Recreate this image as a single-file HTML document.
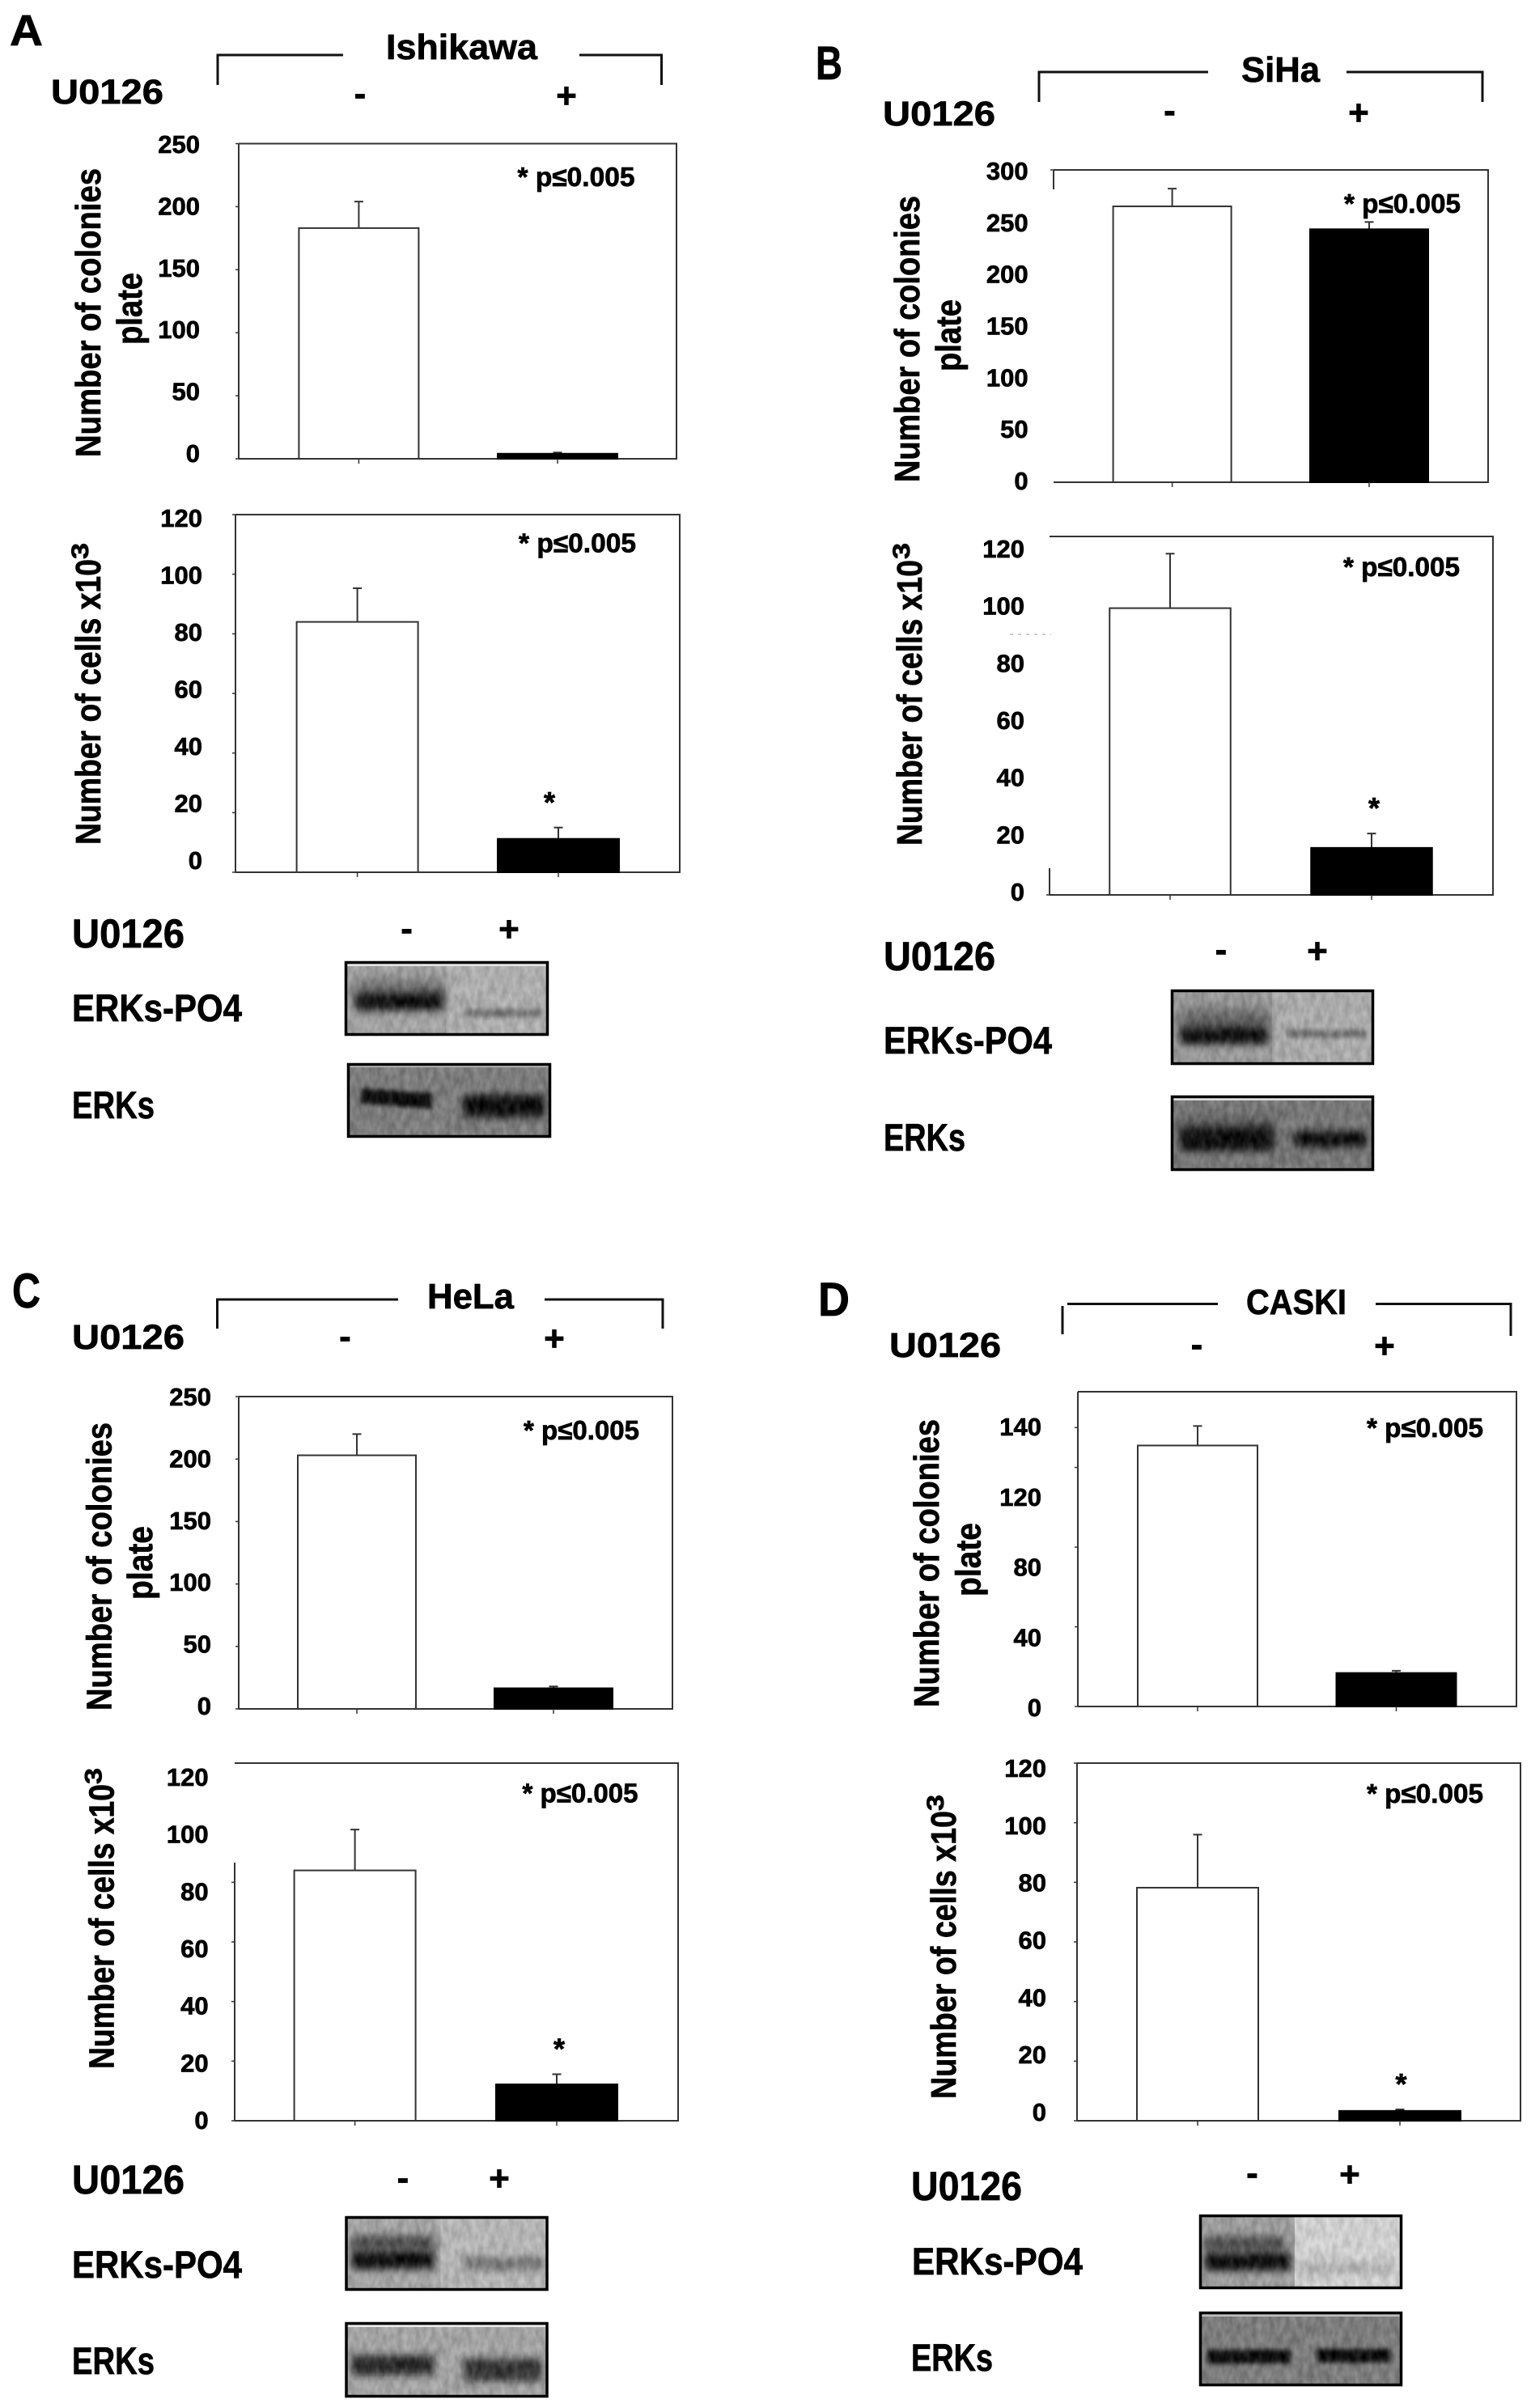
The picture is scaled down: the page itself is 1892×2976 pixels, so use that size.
<!DOCTYPE html>
<html lang="en">
<head>
<meta charset="utf-8">
<title>U0126 colony and cell number charts with ERK western blots</title>
<style>
html,body{margin:0;padding:0;background:#fff;}
svg#figure{display:block;width:1892px;height:2976px;font-family:"Liberation Sans",sans-serif;font-weight:bold;fill:#000;}
svg#figure text{stroke:#000;stroke-width:.7px;}
</style>
</head>
<body>
<svg id="figure" xmlns="http://www.w3.org/2000/svg" width="1892" height="2976" viewBox="0 0 1892 2976">
<defs>
<filter id="b3" x="-30%" y="-150%" width="160%" height="400%"><feGaussianBlur stdDeviation="3"/></filter>
<filter id="b5" x="-30%" y="-150%" width="160%" height="400%"><feGaussianBlur stdDeviation="5"/></filter>
<filter id="b9" x="-30%" y="-150%" width="160%" height="400%"><feGaussianBlur stdDeviation="9"/></filter>
<filter id="grain" x="0" y="0" width="100%" height="100%" color-interpolation-filters="sRGB">
<feTurbulence type="fractalNoise" baseFrequency="0.14 0.07" numOctaves="2" seed="7"/>
<feColorMatrix values="1.8 0 0 0 -0.4  1.8 0 0 0 -0.4  1.8 0 0 0 -0.4  0 0 0 0 0.13"/>
</filter>
</defs>

<!-- PANEL A -->
<g>
<text x="12" y="56" font-size="54" textLength="41" lengthAdjust="spacingAndGlyphs">A</text>
<text x="477" y="73" font-size="44" textLength="187" lengthAdjust="spacingAndGlyphs">Ishikawa</text>
<path d="M269 105V68H424" fill="none" stroke="#111" stroke-width="3"/>
<path d="M716 68H817.5V105" fill="none" stroke="#111" stroke-width="3"/>
<text x="63" y="128" font-size="43" textLength="139" lengthAdjust="spacingAndGlyphs">U0126</text>
<text x="445" y="130" font-size="44" text-anchor="middle">-</text>
<text x="700" y="133" font-size="44" text-anchor="middle">+</text>
<text transform="translate(124,565) rotate(-90)" font-size="44" textLength="357" lengthAdjust="spacingAndGlyphs">Number of colonies</text>
<text transform="translate(175,426) rotate(-90)" font-size="44" textLength="89" lengthAdjust="spacingAndGlyphs">plate</text>
<text x="639.5" y="230" font-size="33" textLength="145" lengthAdjust="spacingAndGlyphs">* p≤0.005</text>
<text transform="translate(124,1044) rotate(-90)" font-size="44" textLength="353" lengthAdjust="spacingAndGlyphs">Number of cells x10</text>
<text transform="translate(109,691) rotate(-90)" font-size="30" textLength="20" lengthAdjust="spacingAndGlyphs">3</text>
<text x="641" y="682.6" font-size="33" textLength="145" lengthAdjust="spacingAndGlyphs">* p≤0.005</text>
<text x="89" y="1171" font-size="50" textLength="139" lengthAdjust="spacingAndGlyphs">U0126</text>
<text x="502.6" y="1162" font-size="44" text-anchor="middle">-</text>
<text x="629" y="1163" font-size="44" text-anchor="middle">+</text>
<text x="89" y="1262" font-size="47" textLength="210" lengthAdjust="spacingAndGlyphs">ERKs-PO4</text>
<text x="89" y="1382" font-size="47" textLength="102" lengthAdjust="spacingAndGlyphs">ERKs</text>
<g>
<svg x="426" y="1188" width="252" height="92">
<rect width="252" height="92" fill="#a6a6a6"/><rect x="125" width="127" height="92" fill="#b4b4b4"/>
<rect x="12" y="24" width="110" height="30" fill="#606060" filter="url(#b9)"/>
<rect x="14" y="40" width="108" height="20" fill="#000" filter="url(#b5)"/>
<rect x="148" y="59" width="96" height="10" fill="#6e6e6e" filter="url(#b3)"/>
<rect width="252" height="92" filter="url(#grain)"/>
<rect x="3" y="3" width="246" height="3" fill="#e4e4e4"/>
</svg>
<rect x="427.5" y="1189.5" width="249" height="89" fill="none" stroke="#000" stroke-width="3.5"/>
</g>
<g>
<svg x="429" y="1314" width="252" height="92">
<rect width="252" height="92" fill="#7c7c7c"/>
<rect x="17" y="34" width="88" height="19" fill="#000" filter="url(#b3)" transform="rotate(4 60 44)"/>
<rect x="144" y="39" width="100" height="28" fill="#000" filter="url(#b5)"/>
<rect width="252" height="92" filter="url(#grain)"/>
<rect x="3" y="3" width="246" height="2" fill="#bbb"/>
</svg>
<rect x="430.5" y="1315.5" width="249" height="89" fill="none" stroke="#000" stroke-width="3.5"/>
</g>
</g>

<!-- PANEL B -->
<g>
<text x="1008" y="98" font-size="58" textLength="33" lengthAdjust="spacingAndGlyphs">B</text>
<text x="1534" y="101" font-size="44" textLength="97" lengthAdjust="spacingAndGlyphs">SiHa</text>
<path d="M1284 126V89H1493" fill="none" stroke="#111" stroke-width="3"/>
<path d="M1664 89H1832V126" fill="none" stroke="#111" stroke-width="3"/>
<text x="1091" y="155" font-size="43" textLength="139" lengthAdjust="spacingAndGlyphs">U0126</text>
<text x="1445.5" y="151" font-size="44" text-anchor="middle">-</text>
<text x="1679" y="154" font-size="44" text-anchor="middle">+</text>
<text transform="translate(1136,596) rotate(-90)" font-size="44" textLength="354" lengthAdjust="spacingAndGlyphs">Number of colonies</text>
<text transform="translate(1187,459) rotate(-90)" font-size="44" textLength="89" lengthAdjust="spacingAndGlyphs">plate</text>
<text x="1661" y="263" font-size="33" textLength="144" lengthAdjust="spacingAndGlyphs">* p≤0.005</text>
<text transform="translate(1139,1045) rotate(-90)" font-size="44" textLength="353" lengthAdjust="spacingAndGlyphs">Number of cells x10</text>
<text transform="translate(1124,691) rotate(-90)" font-size="30" textLength="20" lengthAdjust="spacingAndGlyphs">3</text>
<text x="1660" y="712" font-size="33" textLength="144" lengthAdjust="spacingAndGlyphs">* p≤0.005</text>
<path d="M1248 784H1299" stroke="#bbb" stroke-width="1.5" stroke-dasharray="4 6" fill="none"/>
<text x="1092" y="1199" font-size="50" textLength="138" lengthAdjust="spacingAndGlyphs">U0126</text>
<text x="1509" y="1188" font-size="44" text-anchor="middle">-</text>
<text x="1628" y="1190" font-size="44" text-anchor="middle">+</text>
<text x="1092" y="1302" font-size="47" textLength="208" lengthAdjust="spacingAndGlyphs">ERKs-PO4</text>
<text x="1092" y="1422" font-size="47" textLength="101" lengthAdjust="spacingAndGlyphs">ERKs</text>
<g>
<svg x="1447" y="1223" width="251" height="93">
<rect width="251" height="93" fill="#9c9c9c"/><rect x="125" width="126" height="93" fill="#b0b0b0"/>
<rect x="12" y="26" width="108" height="30" fill="#545454" filter="url(#b9)"/>
<rect x="12" y="47" width="108" height="20" fill="#000" filter="url(#b5)"/>
<rect x="144" y="50" width="97" height="10" fill="#707070" filter="url(#b3)"/>
<rect width="251" height="93" filter="url(#grain)"/>
</svg>
<rect x="1448.5" y="1224.5" width="248" height="90" fill="none" stroke="#000" stroke-width="3.5"/>
</g>
<g>
<svg x="1447" y="1354" width="251" height="93">
<rect width="251" height="93" fill="#767676"/>
<rect x="12" y="30" width="115" height="24" fill="#444" filter="url(#b9)"/>
<rect x="12" y="40" width="115" height="28" fill="#000" filter="url(#b5)"/>
<rect x="153" y="44" width="88" height="20" fill="#000" filter="url(#b5)"/>
<rect width="251" height="93" filter="url(#grain)"/>
<rect x="3" y="3" width="245" height="3" fill="#ddd"/>
</svg>
<rect x="1448.5" y="1355.5" width="248" height="90" fill="none" stroke="#000" stroke-width="3.5"/>
</g>
</g>

<!-- PANEL C -->
<g>
<text x="15" y="1616" font-size="60" textLength="35" lengthAdjust="spacingAndGlyphs">C</text>
<text x="528" y="1617" font-size="44" textLength="107" lengthAdjust="spacingAndGlyphs">HeLa</text>
<path d="M268.5 1642V1606H492" fill="none" stroke="#111" stroke-width="3"/>
<path d="M673 1606H819V1642" fill="none" stroke="#111" stroke-width="3"/>
<text x="89" y="1667" font-size="43" textLength="139" lengthAdjust="spacingAndGlyphs">U0126</text>
<text x="426.5" y="1666" font-size="44" text-anchor="middle">-</text>
<text x="685" y="1669" font-size="44" text-anchor="middle">+</text>
<text transform="translate(137.5,2114) rotate(-90)" font-size="44" textLength="356" lengthAdjust="spacingAndGlyphs">Number of colonies</text>
<text transform="translate(188,1977) rotate(-90)" font-size="44" textLength="91" lengthAdjust="spacingAndGlyphs">plate</text>
<text x="647" y="1779" font-size="33" textLength="143" lengthAdjust="spacingAndGlyphs">* p≤0.005</text>
<text transform="translate(140.5,2557) rotate(-90)" font-size="44" textLength="352" lengthAdjust="spacingAndGlyphs">Number of cells x10</text>
<text transform="translate(125.5,2205) rotate(-90)" font-size="30" textLength="20" lengthAdjust="spacingAndGlyphs">3</text>
<text x="645.5" y="2227.5" font-size="33" textLength="143" lengthAdjust="spacingAndGlyphs">* p≤0.005</text>
<text x="89" y="2711" font-size="50" textLength="139" lengthAdjust="spacingAndGlyphs">U0126</text>
<text x="498" y="2706" font-size="44" text-anchor="middle">-</text>
<text x="617" y="2707" font-size="44" text-anchor="middle">+</text>
<text x="89" y="2815" font-size="47" textLength="210" lengthAdjust="spacingAndGlyphs">ERKs-PO4</text>
<text x="89" y="2934" font-size="47" textLength="102" lengthAdjust="spacingAndGlyphs">ERKs</text>
<g>
<svg x="426.5" y="2739" width="251" height="92">
<rect width="251" height="92" fill="#a8a8a8"/><rect x="118" width="133" height="92" fill="#bcbcbc"/>
<rect x="8" y="24" width="102" height="18" fill="#444" filter="url(#b5)"/>
<rect x="8" y="43" width="102" height="22" fill="#000" filter="url(#b5)"/>
<rect x="147" y="51" width="99" height="16" fill="#707070" filter="url(#b5)"/>
<rect width="251" height="92" filter="url(#grain)"/>
</svg>
<rect x="428" y="2740.5" width="248" height="89" fill="none" stroke="#000" stroke-width="3.5"/>
</g>
<g>
<svg x="426.5" y="2870" width="251" height="93">
<rect width="251" height="93" fill="#a8a8a8"/>
<rect x="8" y="41" width="102" height="24" fill="#1c1c1c" filter="url(#b5)"/>
<rect x="147" y="45" width="96" height="28" fill="#2a2a2a" filter="url(#b5)"/>
<rect width="251" height="93" filter="url(#grain)"/>
<rect x="3" y="3" width="245" height="3" fill="#e8e8e8"/>
</svg>
<rect x="428" y="2871.5" width="248" height="90" fill="none" stroke="#000" stroke-width="3.5"/>
</g>
</g>

<!-- PANEL D -->
<g>
<text x="1011" y="1626" font-size="58" textLength="39" lengthAdjust="spacingAndGlyphs">D</text>
<text x="1540" y="1624" font-size="44" textLength="124" lengthAdjust="spacingAndGlyphs">CASKI</text>
<path d="M1313 1614V1649M1319 1611.5H1505" fill="none" stroke="#111" stroke-width="3"/>
<path d="M1700 1611.5H1867V1651" fill="none" stroke="#111" stroke-width="3"/>
<text x="1099" y="1677" font-size="43" textLength="138" lengthAdjust="spacingAndGlyphs">U0126</text>
<text x="1479" y="1676" font-size="44" text-anchor="middle">-</text>
<text x="1711" y="1678" font-size="44" text-anchor="middle">+</text>
<text transform="translate(1160,2110) rotate(-90)" font-size="44" textLength="356" lengthAdjust="spacingAndGlyphs">Number of colonies</text>
<text transform="translate(1211.5,1973) rotate(-90)" font-size="44" textLength="91" lengthAdjust="spacingAndGlyphs">plate</text>
<text x="1689" y="1776" font-size="33" textLength="144" lengthAdjust="spacingAndGlyphs">* p≤0.005</text>
<text transform="translate(1181,2594) rotate(-90)" font-size="44" textLength="356" lengthAdjust="spacingAndGlyphs">Number of cells x10</text>
<text transform="translate(1166,2238) rotate(-90)" font-size="30" textLength="20" lengthAdjust="spacingAndGlyphs">3</text>
<text x="1689" y="2228" font-size="33" textLength="144" lengthAdjust="spacingAndGlyphs">* p≤0.005</text>
<text x="1126" y="2719" font-size="50" textLength="137" lengthAdjust="spacingAndGlyphs">U0126</text>
<text x="1547.5" y="2700" font-size="44" text-anchor="middle">-</text>
<text x="1668" y="2702" font-size="44" text-anchor="middle">+</text>
<text x="1127" y="2811" font-size="47" textLength="211" lengthAdjust="spacingAndGlyphs">ERKs-PO4</text>
<text x="1126" y="2930" font-size="47" textLength="101" lengthAdjust="spacingAndGlyphs">ERKs</text>
<g>
<svg x="1482" y="2737" width="251" height="92">
<rect width="251" height="92" fill="#a0a0a0"/><rect x="118" width="133" height="92" fill="#dadada"/>
<rect x="7" y="27" width="98" height="18" fill="#444" filter="url(#b5)"/>
<rect x="7" y="47" width="106" height="22" fill="#000" filter="url(#b5)"/>
<rect x="125" y="59" width="115" height="14" fill="#b0b0b0" filter="url(#b5)"/>
<rect width="251" height="92" filter="url(#grain)"/>
</svg>
<rect x="1483.5" y="2738.5" width="248" height="89" fill="none" stroke="#000" stroke-width="3.5"/>
</g>
<g>
<svg x="1482" y="2857" width="251" height="92">
<rect width="251" height="92" fill="#7c7c7c"/>
<rect x="10" y="47" width="103" height="17" fill="#000" filter="url(#b3)"/>
<rect x="146" y="46" width="90" height="17" fill="#000" filter="url(#b3)"/>
<rect width="251" height="92" filter="url(#grain)"/>
<rect x="3" y="3" width="245" height="3" fill="#bdbdbd"/>
</svg>
<rect x="1483.5" y="2858.5" width="248" height="89" fill="none" stroke="#000" stroke-width="3.5"/>
</g>
</g>

<g id="charts"></g>
</svg>

<script>
// Chart data
const categories = ['-', '+'];

const ishikawaColonyMeans = [183, 4];
const ishikawaColonyErrors = [21, 1];
const ishikawaColonyTicks = [250, 200, 150, 100, 50, 0];

const ishikawaCellMeans = [84, 11.2];
const ishikawaCellErrors = [11.3, 3.8];
const ishikawaCellTicks = [120, 100, 80, 60, 40, 20, 0];

const sihaColonyMeans = [265, 243];
const sihaColonyErrors = [17, 7];
const sihaColonyTicks = [300, 250, 200, 150, 100, 50, 0];

const sihaCellMeans = [100, 16.4];
const sihaCellErrors = [19, 5];
const sihaCellTicks = [120, 100, 80, 60, 40, 20, 0];

const helaColonyMeans = [203, 16.5];
const helaColonyErrors = [17, 1.5];
const helaColonyTicks = [250, 200, 150, 100, 50, 0];

const helaCellMeans = [84, 12.2];
const helaCellErrors = [13.7, 3.4];
const helaCellTicks = [120, 100, 80, 60, 40, 20, 0];

const caskiColonyMeans = [131, 16.8];
const caskiColonyErrors = [9.8, 1.1];
const caskiColonyTicks = [140, 120, 80, 40, 0];

const caskiCellMeans = [78.2, 3.3];
const caskiCellErrors = [17.8, 0.5];
const caskiCellTicks = [120, 100, 80, 60, 40, 20, 0];

// Plot geometry
const charts = [
  {name:'ishikawa-colonies-chart', means:ishikawaColonyMeans, errors:ishikawaColonyErrors, ticks:ishikawaColonyTicks,
   l:295, r:836, t:177.5, b:567, max:250, first:443.4, step:245.6, barW:148, left:[177.5,567], labelX:247, labelTop:178, labelBottom:560},
  {name:'ishikawa-cells-chart', means:ishikawaCellMeans, errors:ishikawaCellErrors, ticks:ishikawaCellTicks,
   l:291, r:840, t:636, b:1078, max:120, first:441.6, step:248.4, barW:150, left:[636,1078], labelX:250, labelTop:640, labelBottom:1063, starDx:-11},
  {name:'siha-colonies-chart', means:sihaColonyMeans, errors:sihaColonyErrors, ticks:sihaColonyTicks,
   l:1302, r:1839, t:210, b:596, max:300, first:1448.6, step:243.4, barW:146, left:[210,234], labelX:1270.6, labelTop:211, labelBottom:594},
  {name:'siha-cells-chart', means:sihaCellMeans, errors:sihaCellErrors, ticks:sihaCellTicks,
   l:1297, r:1845, t:663, b:1106, max:125, first:1446, step:249, barW:149.5, left:[1073,1106], labelX:1266, labelTop:678, labelBottom:1102, starDx:3},
  {name:'hela-colonies-chart', means:helaColonyMeans, errors:helaColonyErrors, ticks:helaColonyTicks,
   l:295, r:831, t:1726, b:2112, max:250, first:441, step:243, barW:146, left:[1726,2112], labelX:261, labelTop:1726, labelBottom:2108},
  {name:'hela-cells-chart', means:helaCellMeans, errors:helaCellErrors, ticks:helaCellTicks,
   l:290, r:838, t:2179, b:2621, max:120, first:438.6, step:249.4, barW:150, left:[2302,2621], labelX:257.6, labelTop:2196, labelBottom:2620, starDx:3},
  {name:'caski-colonies-chart', means:caskiColonyMeans, errors:caskiColonyErrors, ticks:caskiColonyTicks,
   l:1332, r:1874, t:1720, b:2109, max:158, first:1480, step:245.5, barW:148, left:[1720,2109], labelX:1287, labelTop:1763, labelBottom:2110},
  {name:'caski-cells-chart', means:caskiCellMeans, errors:caskiCellErrors, ticks:caskiCellTicks,
   l:1331, r:1879, t:2179, b:2621, max:120, first:1480, step:250, barW:150, left:[2179,2621], labelX:1293, labelTop:2185, labelBottom:2610, starDx:1.5}
];

const SVGNS = 'http://www.w3.org/2000/svg';
const root = document.getElementById('charts');

function make(tag, parent, attrs) {
  const el = document.createElementNS(SVGNS, tag);
  for (const k in attrs) el.setAttribute(k, attrs[k]);
  parent.appendChild(el);
  return el;
}

function drawChart(c) {
  const yScale = v => c.b - (v / c.max) * (c.b - c.t);
  const xBand = i => c.first + i * c.step;
  const stroke = '#333';

  const g = make('g', root, {});
  
  

  // plot frame
  const frame = make('path', g, {
    d: 'M' + c.l + ' ' + c.t + 'H' + c.r + 'V' + c.b + 'H' + c.l +
       'M' + c.l + ' ' + c.left[0] + 'V' + c.left[1],
    fill: 'none', stroke: stroke, 'stroke-width': 2
  });
  
  

  // y axis ticks and labels
  c.ticks.forEach((tick, i) => {
    const yTick = yScale(tick);
    if (yTick >= c.left[0] && yTick <= c.left[1]) {
      const mark = make('line', g, {x1: c.l - 4, x2: c.l, y1: yTick, y2: yTick, stroke: stroke, 'stroke-width': 1.5});
      
      
    }
    const yLabel = c.labelTop + i * (c.labelBottom - c.labelTop) / (c.ticks.length - 1);
    const label = make('text', g, {x: c.labelX, y: yLabel + 11, 'font-size': 31, 'text-anchor': 'end'});
    label.textContent = String(tick);
    
    
  });

  // bars, error bars, x ticks
  categories.forEach((cat, i) => {
    const cx = xBand(i);
    const top = yScale(c.means[i]);
    const errTop = yScale(c.means[i] + c.errors[i]);

    const whisker = make('path', g, {
      d: 'M' + cx + ' ' + top + 'V' + errTop + 'M' + (cx - 5.5) + ' ' + errTop + 'H' + (cx + 5.5),
      fill: 'none', stroke: stroke, 'stroke-width': 2
    });
    
    

    const bar = make('rect', g, {
      x: cx - c.barW / 2, y: top, width: c.barW, height: c.b - top,
      fill: i === 0 ? '#fff' : '#000', stroke: i === 0 ? stroke : '#000', 'stroke-width': 2
    });
    
    

    const xTick = make('line', g, {x1: cx, x2: cx, y1: c.b, y2: c.b + 6, stroke: stroke, 'stroke-width': 1.5});
    
    

    if (i === 1 && c.starDx !== undefined) {
      const star = make('text', g, {x: cx + c.starDx, y: errTop - 39 + 20, 'font-size': 36, 'text-anchor': 'middle'});
      star.textContent = '*';
      
      
    }
  });
}

charts.forEach(drawChart);
</script>
</body>
</html>
